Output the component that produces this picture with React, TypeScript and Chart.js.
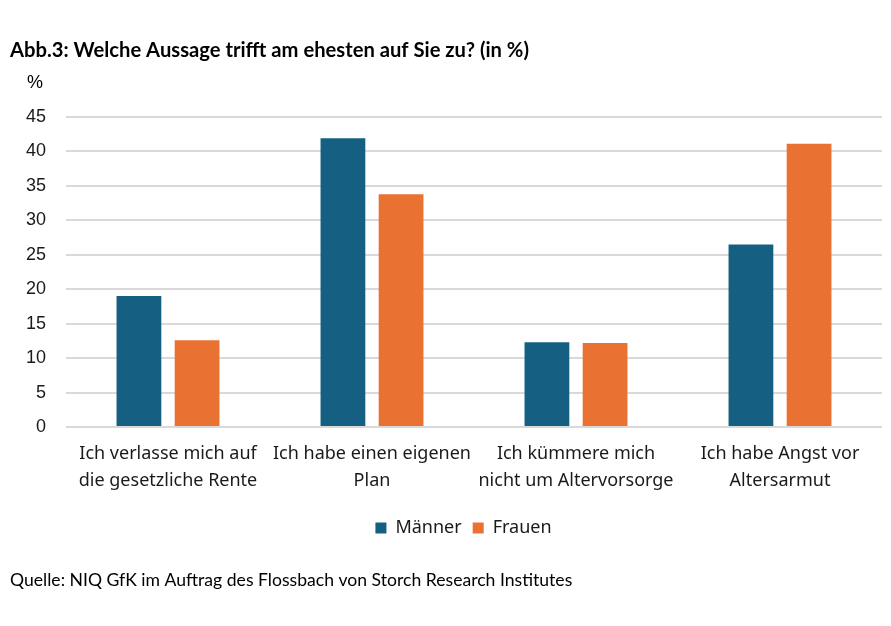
import { useEffect, useRef } from 'react';
import { Chart, registerables } from 'chart.js';

Chart.register(...registerables);

const categories = [
  ['Ich verlasse mich auf', 'die gesetzliche Rente'],
  ['Ich habe einen eigenen', 'Plan'],
  ['Ich kümmere mich', 'nicht um Altervorsorge'],
  ['Ich habe Angst vor', 'Altersarmut'],
];
const maenner = [19.0, 41.9, 12.3, 26.5];
const frauen = [12.6, 33.8, 12.2, 41.1];
const seriesNames = ['Männer', 'Frauen'];

const titleText = 'Abb.3: Welche Aussage trifft am ehesten auf Sie zu? (in %)';
const sourceText = 'Quelle: NIQ GfK im Auftrag des Flossbach von Storch Research Institutes';

// draws the heading, the unit label and the source line
const textPlugin = {
  id: 'texts',
  afterLayout(chart: Chart) {
    // legend is centred under the plot rather than the whole canvas
    const legend = chart.legend;
    if (legend) legend.left = legend.left + 45;
  },
  afterDraw(chart: Chart) {
    const ctx = chart.ctx;
    ctx.save();
    ctx.fillStyle = '#000';
    ctx.textBaseline = 'middle';
    ctx.textAlign = 'left';
    ctx.font = 'bold 20.2px Lato';
    ctx.fillText(titleText, 10, 50);
    ctx.font = '18px "Liberation Sans"';
    ctx.fillText('%', 27, 83);
    ctx.font = '17.6px Lato';
    ctx.fillText(sourceText, 10, 580);
    ctx.restore();
  },
};

export default function App() {
  const chartRef = useRef<HTMLCanvasElement>(null);
  const chartInstance = useRef<Chart | null>(null);

  useEffect(() => {
    document.body.style.margin = '0';
    if (chartRef.current) {
      if (chartInstance.current) {
        chartInstance.current.destroy();
      }

      chartInstance.current = new Chart(chartRef.current, {
        type: 'bar',
        data: {
          labels: categories,
          datasets: [
            {
              label: seriesNames[0],
              data: maenner,
              backgroundColor: '#156082',
            },
            {
              label: seriesNames[1],
              data: frauen,
              backgroundColor: '#E97132',
            },
          ],
        },
        options: {
          responsive: false,
          animation: false,
          categoryPercentage: 0.57,
          barPercentage: 0.77,
          layout: {
            padding: { left: 0, right: 9, top: 117, bottom: 79 },
          },
          scales: {
            x: {
              grid: { display: false },
              border: { display: false },
              ticks: {
                color: '#1a1a1a',
                padding: 5,
                font: { family: 'Noto Sans', size: 18, lineHeight: 1.5 },
                maxRotation: 0,
                autoSkip: false,
              },
              afterFit(scale) {
                scale.height = 81;
              },
            },
            y: {
              min: 0,
              max: 45,
              ticks: {
                stepSize: 5,
                color: '#1a1a1a',
                padding: 20,
                font: { family: 'Liberation Sans', size: 18 },
              },
              grid: { color: '#d9d9d9', lineWidth: 2, drawTicks: false },
              border: { display: false },
              afterFit(scale) {
                scale.width = 66;
              },
            },
          },
          plugins: {
            legend: {
              position: 'bottom',
              labels: {
                boxWidth: 11,
                boxHeight: 11,
                padding: 11,
                color: '#1a1a1a',
                font: { family: 'Noto Sans', size: 18 },
              },
            },
            tooltip: { enabled: false },
          },
        },
        plugins: [textPlugin],
      });
    }

    return () => {
      if (chartInstance.current) {
        chartInstance.current.destroy();
        chartInstance.current = null;
      }
    };
  }, []);

  return (
    <div style={{ width: 891, height: 626, background: '#fff' }}>
      <canvas ref={chartRef} width={891} height={626} />
    </div>
  );
}
